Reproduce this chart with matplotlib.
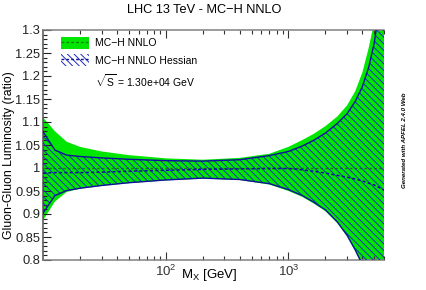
import matplotlib
matplotlib.use('Agg')
import matplotlib.pyplot as plt
from matplotlib.patches import Patch
from matplotlib.lines import Line2D
from matplotlib.ticker import FixedLocator, MultipleLocator, LogLocator, NullFormatter

plt.rcParams['font.family'] = ['Liberation Sans', 'DejaVu Sans']
plt.rcParams['mathtext.fontset'] = 'custom'
plt.rcParams['mathtext.rm'] = 'Liberation Sans'
plt.rcParams['mathtext.it'] = 'Liberation Sans:italic'
plt.rcParams['mathtext.bf'] = 'Liberation Sans:bold'
plt.rcParams['hatch.linewidth'] = 0.7

# ---- data ----
mass = [10, 12.5, 15.6, 20, 30, 50, 100, 200, 400, 700, 1000, 1300, 1600,
        2000, 2500, 3000, 3500, 4000, 4500, 5000, 6000]
mc_central = [1.0] * len(mass)
mc_upper = [1.110, 1.080, 1.057, 1.046, 1.036, 1.028, 1.021, 1.018, 1.022, 1.031,
            1.046, 1.061, 1.074, 1.091, 1.112, 1.136, 1.167, 1.208, 1.261, 1.318, 1.480]
mc_lower = [0.886, 0.927, 0.948, 0.955, 0.961, 0.967, 0.973, 0.977, 0.974, 0.964,
            0.950, 0.937, 0.923, 0.906, 0.880, 0.851, 0.819, 0.787, 0.747, 0.697, 0.597]
hess_central = [0.989, 0.990, 0.990, 0.990, 0.991, 0.993, 0.995, 0.997, 0.998, 0.999,
                0.999, 0.996, 0.993, 0.989, 0.984, 0.980, 0.976, 0.972, 0.967, 0.963, 0.952]
hess_upper = [1.079, 1.039, 1.028, 1.025, 1.022, 1.019, 1.016, 1.015, 1.018, 1.027,
              1.036, 1.048, 1.060, 1.076, 1.097, 1.118, 1.145, 1.177, 1.219, 1.272, 1.420]
hess_lower = [0.902, 0.940, 0.951, 0.956, 0.962, 0.968, 0.974, 0.978, 0.975, 0.966,
              0.953, 0.940, 0.926, 0.909, 0.883, 0.854, 0.822, 0.790, 0.750, 0.700, 0.600]

y_ticks = [0.8, 0.85, 0.9, 0.95, 1.0, 1.05, 1.1, 1.15, 1.2, 1.25, 1.3]
y_ticklabels = ['0.8', '0.85', '0.9', '0.95', '1', '1.05', '1.1', '1.15', '1.2', '1.25', '1.3']
x_major = [100, 1000]
x_ticklabels = [r'$10^{2}$', r'$10^{3}$']

title = 'LHC 13 TeV - MC\u2212H NNLO'
label_mc = 'MC\u2212H NNLO'
label_hess = 'MC\u2212H NNLO Hessian'
label_sqrts = r'$\sqrt{\mathrm{S}}$ = 1.30e+04 GeV'

GREEN = '#00e600'
DKGREEN = '#108010'
BLUE = '#10109a'
HATCH = '#1a2ac0'

fig = plt.figure(figsize=(4.27, 2.90), dpi=100)
ax = fig.add_axes([43 / 427, 1 - 260 / 290, (384 - 43) / 427, 230 / 290])

ax.fill_between(mass, mc_lower, mc_upper, facecolor=GREEN, edgecolor='none', lw=0, zorder=1)
ax.plot(mass, mc_central, color=DKGREEN, ls='--', lw=1.0, dashes=(2, 1.5), zorder=2)
ax.fill_between(mass, hess_lower, hess_upper, facecolor='none', edgecolor=HATCH,
                hatch='\\' * 5, lw=0, zorder=3)
ax.plot(mass, hess_upper, color=BLUE, lw=1.0, zorder=4)
ax.plot(mass, hess_lower, color=BLUE, lw=1.0, zorder=4)
ax.plot(mass, hess_central, color=BLUE, ls='--', lw=1.1, dashes=(2, 1.5), zorder=4)

ax.set_xscale('log')
ax.set_xlim(10, 6000)
ax.set_ylim(0.8, 1.3)

ax.yaxis.set_major_locator(FixedLocator(y_ticks))
ax.set_yticklabels(y_ticklabels)
ax.yaxis.set_minor_locator(MultipleLocator(0.01))
ax.xaxis.set_major_locator(FixedLocator(x_major))
ax.set_xticklabels(x_ticklabels)
ax.xaxis.set_minor_locator(LogLocator(base=10, subs=[2, 3, 4, 5, 6, 7, 8, 9]))
ax.xaxis.set_minor_formatter(NullFormatter())

ax.tick_params(axis='y', which='both', direction='in', left=True, right=False,
               labelsize=9.3, pad=2, colors='#222222')
ax.tick_params(axis='y', which='major', length=6, width=0.8)
ax.tick_params(axis='y', which='minor', length=3, width=0.8)
ax.tick_params(axis='x', which='both', direction='in', bottom=True, top=True,
               labelsize=9.5, pad=3, colors='#333333')
ax.tick_params(axis='x', which='major', length=6, width=0.8)
ax.tick_params(axis='x', which='minor', length=3, width=0.8)

for s in ['top', 'bottom']:
    ax.spines[s].set_color('#808080')
    ax.spines[s].set_linewidth(1.1)
ax.spines['left'].set_color('#505050')
ax.spines['left'].set_linewidth(1.1)
ax.spines['right'].set_visible(False)

h1 = (Patch(facecolor=GREEN, edgecolor='none', lw=0),
      Line2D([], [], color=DKGREEN, ls='--', lw=1.0, dashes=(2, 1.5)))
h2 = (Patch(facecolor='white', edgecolor=HATCH, hatch='\\' * 5, lw=0),
      Line2D([], [], color=BLUE, ls='--', lw=1.0, dashes=(2, 1.5)))
h3 = Line2D([], [], color='none')
ax.legend([h1, h2, h3], [label_mc, label_hess, label_sqrts],
          loc='upper left', bbox_to_anchor=(61 / 427, 1 - 37 / 290),
          bbox_transform=fig.transFigure, frameon=False, fontsize=7.5,
          borderpad=0, borderaxespad=0, handlelength=2.7, handleheight=1.35,
          handletextpad=0.55, labelspacing=0.55)

fig.text(204 / 427, 1 - 10 / 290, title, ha='center', va='center', fontsize=9.2)
fig.text(9 / 427, 1 - 155 / 290, 'Gluon-Gluon Luminosity (ratio)', rotation=90,
         ha='center', va='center', fontsize=8.8)
fig.text(209 / 427, 1 - 278 / 290, r'M$_{\mathrm{X}}$ [GeV]', ha='center',
         va='baseline', fontsize=9.5)
fig.text(405 / 427, 1 - 140 / 290, 'Generated with APFEL 2.4.0 Web', rotation=90,
         ha='center', va='center', fontsize=4.4, fontweight='bold', fontstyle='italic')

fig.savefig('out.png', dpi=100)
